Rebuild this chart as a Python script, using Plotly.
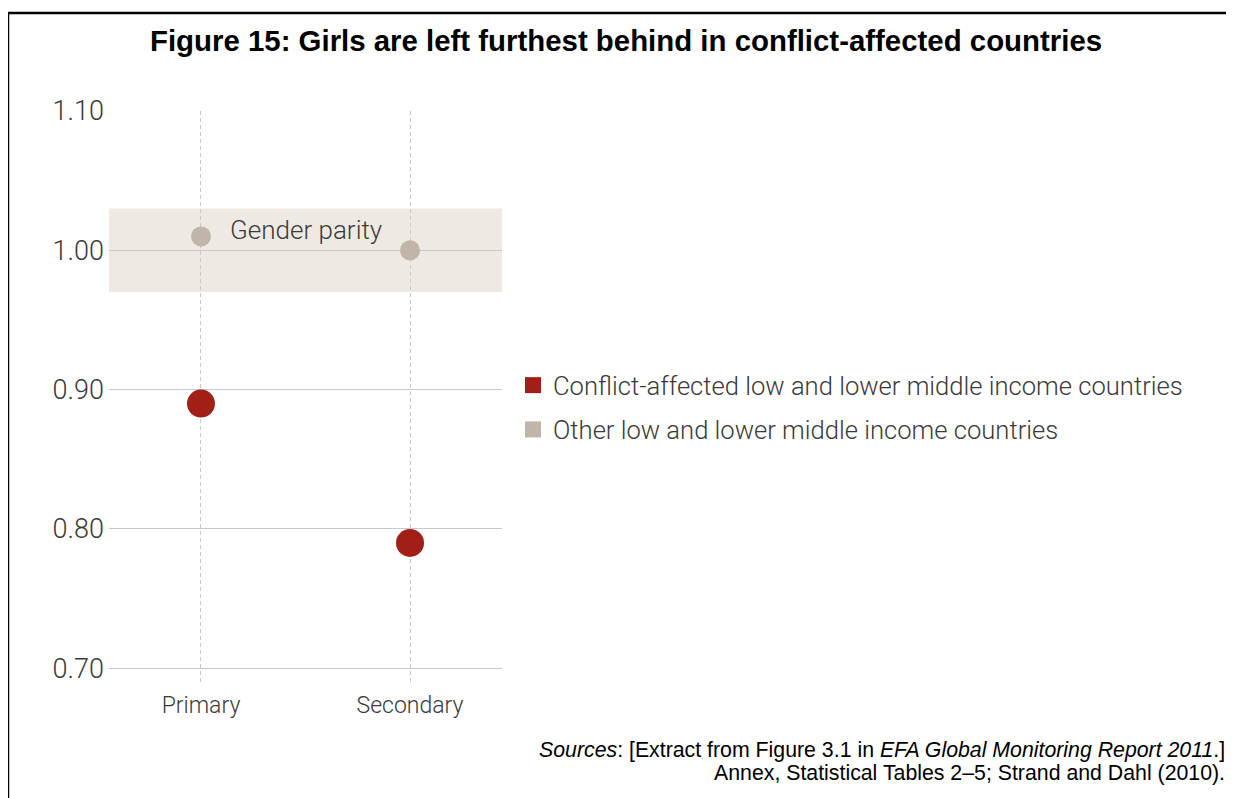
import plotly.graph_objects as go

# ---- data ----
categories = ["Primary", "Secondary"]
conflict_values = [0.89, 0.79]
other_values = [1.01, 1.00]
series_names = ["Conflict-affected low and lower middle income countries",
                "Other low and lower middle income countries"]
y_tick_values = [0.70, 0.80, 0.90, 1.00, 1.10]
y_tick_labels = ["0.70", "0.80", "0.90", "1.00", "1.10"]
parity_band = [0.97, 1.03]

# ---- styling ----
OFF = 8                      # page body margin
W, H = 1234 - OFF, 798 - OFF
PL, PR, PT, PB = 109, 502, 111, 685   # plot area in screen pixels
RED = "#A11F17"
GREY = "#C1B5A9"
BAND = "#EEEAE3"
TXT = "#3A3A3A"
NARROW = "Roboto, Liberation Sans Narrow, sans-serif"


def px(x):
    return (x - PL) / (PR - PL)


def py(y):
    return (PB - y) / (PB - PT)


fig = go.Figure()

fig.add_trace(go.Scatter(x=categories, y=other_values, mode="markers",
                         marker=dict(size=20, color=GREY), showlegend=False,
                         name=series_names[1]))
fig.add_trace(go.Scatter(x=categories, y=conflict_values, mode="markers",
                         marker=dict(size=28, color=RED), showlegend=False,
                         name=series_names[0]))
# legend entries (square swatches)
fig.add_trace(go.Scatter(x=[None], y=[None], mode="markers", name=series_names[0],
                         legendgroup="a",
                         marker=dict(symbol="square", size=20, color=RED)))
fig.add_trace(go.Scatter(x=[None], y=[None], mode="markers", name=series_names[1],
                         legendgroup="b",
                         marker=dict(symbol="square", size=20, color=GREY)))

shapes = [
    dict(type="rect", xref="paper", yref="y", x0=0, x1=1,
         y0=parity_band[0], y1=parity_band[1], fillcolor=BAND,
         line=dict(width=0), layer="below"),
    # frame: top and left border
    dict(type="line", xref="paper", yref="paper", x0=px(8), x1=px(1233),
         y0=py(13), y1=py(13), line=dict(color="black", width=2.5)),
    dict(type="line", xref="paper", yref="paper", x0=px(8), x1=px(8),
         y0=py(13), y1=py(800), line=dict(color="black", width=2.5)),
]

SRC_FONT = dict(family="Liberation Sans, Arial, sans-serif", size=21.3, color="black")
annotations = [
    dict(text="<b>Figure 15: Girls are left furthest behind in conflict-affected countries</b>",
         xref="paper", yref="paper", x=px(626), y=py(41), showarrow=False,
         xanchor="center", yanchor="middle",
         font=dict(family="Liberation Sans, Arial, sans-serif", size=29.4, color="black")),
    dict(text="Gender parity", xref="paper", yref="paper", x=px(228), y=py(230),
         showarrow=False, xanchor="left", yanchor="middle",
         font=dict(family=NARROW, size=26, color=TXT, weight=300)),
    dict(text="<i>Sources</i>: [Extract from Figure 3.1 in <i>EFA Global Monitoring Report 2011</i>.]",
         xref="paper", yref="paper", x=px(1227), y=py(750), showarrow=False,
         xanchor="right", yanchor="middle", font=SRC_FONT),
    dict(text="Annex, Statistical Tables 2–5; Strand and Dahl (2010).",
         xref="paper", yref="paper", x=px(1227), y=py(773), showarrow=False,
         xanchor="right", yanchor="middle", font=SRC_FONT),
]

fig.update_layout(
    width=W, height=H,
    margin=dict(l=PL - OFF, r=W - (PR - OFF), t=PT - OFF, b=H - (PB - OFF),
                autoexpand=False),
    paper_bgcolor="white", plot_bgcolor="rgba(0,0,0,0)",
    shapes=shapes, annotations=annotations,
    legend=dict(x=px(513), y=py(362), xanchor="left", yanchor="top",
                font=dict(family=NARROW, size=25.6, color=TXT, weight=300),
                itemsizing="trace", tracegroupgap=8, bgcolor="rgba(0,0,0,0)"),
    xaxis=dict(type="category", range=[-0.44, 1.44], showgrid=True,
               gridcolor="#C8C8C8", griddash="4px,3px", gridwidth=1,
               zeroline=False, showline=False, ticks="", automargin=False,
               ticklabelstandoff=4,
               tickfont=dict(family=NARROW, size=23, color=TXT, weight=300)),
    yaxis=dict(range=[0.688, 1.10], tickvals=y_tick_values, ticktext=y_tick_labels,
               showgrid=True, gridcolor="#C8C8C8", gridwidth=1, zeroline=False,
               showline=False, ticks="", ticklabelstandoff=4, automargin=False,
               tickfont=dict(family=NARROW, size=27, color=TXT, weight=300)),
)

fig.write_html("out.html")
